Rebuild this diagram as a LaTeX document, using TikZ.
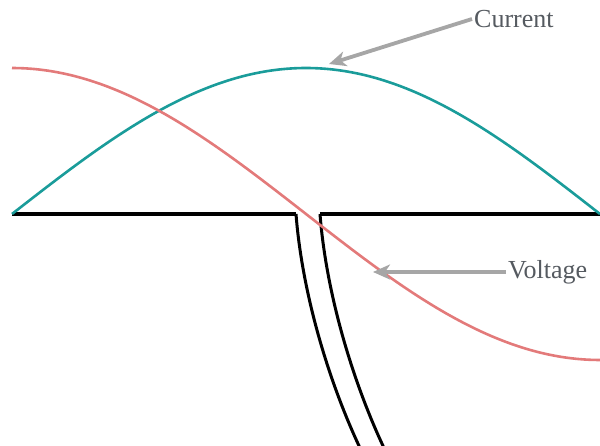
\documentclass[tikz,border=0pt]{standalone}
\usepackage{fontspec}
\setmainfont{Liberation Serif}
\usepackage{tikz}
\usetikzlibrary{arrows.meta,positioning,calc}
\definecolor{WTeal}{HTML}{1A9C9A}
\definecolor{WRose}{HTML}{E37A7A}
\definecolor{WGray}{HTML}{A6A6A6}
\definecolor{WText}{HTML}{555A60}

\begin{document}
\begin{tikzpicture}[
  x=1pt,y=-1pt,
  every node/.style={font=\fontsize{26}{29}\selectfont,text=WText,inner sep=2pt},
  wire/.style={black,line width=3pt},
  rail/.style={black,line width=4pt},
  wave/.style={line width=2.6pt,smooth,samples=80},
  ptr/.style={-{Stealth[length=17pt,width=15pt,inset=5pt]},WGray,line width=3.8pt}
]
\useasboundingbox (0,0) rectangle (600,446);
% ground line and the two walls
\draw[rail] (12,214) -- (296,214);
\draw[rail] (600,214) -- (320,214);
\draw[wire] (296,214) .. controls (302,292) and (328,380) .. (360,448);
\draw[wire] (320,214) .. controls (326,292) and (352,380) .. (384,448);
% waves
\draw[wave,WTeal] plot[domain=12:600] ({\x},{214-146*sin(0.306122*(\x-12))});
\draw[wave,WRose] plot[domain=12:600] ({\x},{214-146*cos(0.306122*(\x-12))});
% labels
\node[anchor=west] (cur) at (472,19) {Current};
\node[anchor=west] (volt) at (506,272) {Voltage};
\coordinate (curtip) at (329,64);
\coordinate (volttip) at (373,272);
\draw[ptr] (cur.west) -- (curtip);
\draw[ptr] (volt.west) -- (volttip);
\end{tikzpicture}
\end{document}
